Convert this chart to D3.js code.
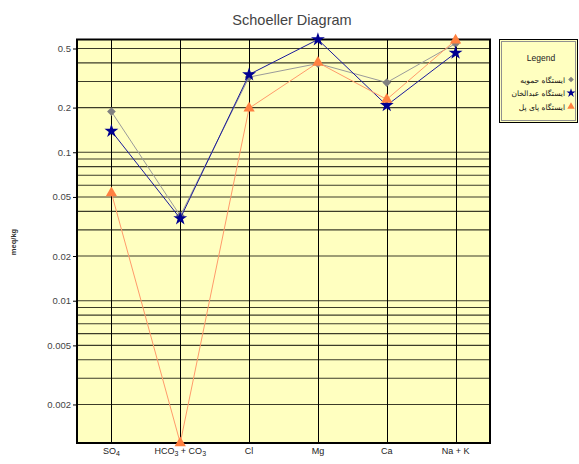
<!DOCTYPE html>
<html>
<head>
<meta charset="utf-8">
<script src="https://cdn.jsdelivr.net/npm/d3@7/dist/d3.min.js"></script>
<style>
  body { margin: 0; background: #fff; }
  svg { display: block; font-family: "Liberation Sans", Arial, sans-serif; }
</style>
</head>
<body>
<div id="chart"></div>
<script>
// categories and series values (meq/kg)
const categories = ["SO4", "HCO3 + CO3", "Cl", "Mg", "Ca", "Na + K"];
const hamoyeh   = [0.188, 0.0373, 0.321, 0.396, 0.295, 0.54];
const abdolkhan = [0.139, 0.0358, 0.334, 0.575, 0.207, 0.467];
const payePol   = [0.0532, 0.0011, 0.198, 0.402, 0.227, 0.569];
const seriesNames = ["ایستگاه حمویه", "ایستگاه عبدالخان", "ایستگاه پای پل"];
const yTickValues = [0.5, 0.2, 0.1, 0.05, 0.02, 0.01, 0.005, 0.002];

const width = 579, height = 464;
const plot = { left: 77, top: 39.5, right: 490, bottom: 443 };
const plotBg = "#ffffc0";

const series = [
  { name: seriesNames[0], values: hamoyeh,   line: "#9a9a9a", fill: "#808080", symbol: "diamond" },
  { name: seriesNames[1], values: abdolkhan, line: "#1a1a9c", fill: "#000090", symbol: "star" },
  { name: seriesNames[2], values: payePol,   line: "#ff9a6a", fill: "#ff8040", symbol: "triangle" }
];

const svg = d3.select("#chart").append("svg")
  .attr("width", width)
  .attr("height", height);

const allValues = series.flatMap(s => s.values);
const x = d3.scalePoint()
  .domain(categories)
  .range([plot.left, plot.right])
  .padding(0.5);
const y = d3.scaleLog()
  .domain(d3.extent(allValues))
  .range([plot.bottom, plot.top]);

// plot background
svg.append("rect")
  .attr("x", plot.left).attr("y", plot.top)
  .attr("width", plot.right - plot.left)
  .attr("height", plot.bottom - plot.top)
  .attr("fill", plotBg);

// horizontal grid: every 1..9 x 10^n inside the domain
const [yMin, yMax] = y.domain();
const gridValues = [];
for (let e = Math.floor(Math.log10(yMin)); e <= Math.ceil(Math.log10(yMax)); e++) {
  for (let m = 1; m < 10; m++) {
    const v = m * Math.pow(10, e);
    if (v >= yMin && v <= yMax) gridValues.push(v);
  }
}
svg.append("g").selectAll("line")
  .data(gridValues)
  .join("line")
  .attr("x1", plot.left).attr("x2", plot.right)
  .attr("y1", d => y(d)).attr("y2", d => y(d))
  .attr("stroke", "#3c3c28")
  .attr("stroke-width", 1.1);

// vertical grid at each category
svg.append("g").selectAll("line")
  .data(categories)
  .join("line")
  .attr("x1", d => Math.round(x(d)) + 0.5).attr("x2", d => Math.round(x(d)) + 0.5)
  .attr("y1", plot.top).attr("y2", plot.bottom)
  .attr("stroke", "#000")
  .attr("stroke-width", 1);

// y axis
const yAxis = svg.append("g")
  .attr("transform", `translate(${plot.left},0)`)
  .call(d3.axisLeft(y).tickValues(yTickValues).tickFormat(d3.format("")).tickSize(4).tickPadding(2));
yAxis.select(".domain").remove();
yAxis.selectAll("text")
  .attr("font-size", 9.5)
  .attr("fill", "#444")
  .attr("font-family", "\"Liberation Sans\", Arial, sans-serif");
yAxis.selectAll("line").attr("stroke", "#000");

// x axis labels with subscripts
const xLabels = svg.append("g").selectAll("text")
  .data(categories)
  .join("text")
  .attr("x", d => x(d))
  .attr("y", 456)
  .attr("text-anchor", "middle")
  .attr("font-size", 9)
  .attr("fill", "#222");
xLabels.each(function(d) {
  const t = d3.select(this);
  d.split(/(\d)/).filter(p => p !== "").forEach(p => {
    if (/^\d$/.test(p)) {
      t.append("tspan").text(p).attr("font-size", 7).attr("dy", 2);
    } else {
      t.append("tspan").text(p).attr("dy", t.selectAll("tspan").size() ? -2 : 0);
    }
  });
});

// plot border
svg.append("rect")
  .attr("x", plot.left).attr("y", plot.top)
  .attr("width", plot.right - plot.left)
  .attr("height", plot.bottom - plot.top)
  .attr("fill", "none")
  .attr("stroke", "#000")
  .attr("stroke-width", 2);

// series lines and markers
const symbolFor = {
  diamond: d3.symbol().type(d3.symbolSquare).size(38),
  star: d3.symbol().type(d3.symbolStar).size(60),
  triangle: d3.symbol().type(d3.symbolTriangle).size(55)
};
const legendSymbolFor = {
  diamond: d3.symbol().type(d3.symbolSquare).size(16),
  star: d3.symbol().type(d3.symbolStar).size(26),
  triangle: d3.symbol().type(d3.symbolTriangle).size(24)
};
const lineGen = d3.line()
  .x((d, i) => x(categories[i]))
  .y(d => y(d));

series.forEach(s => {
  const g = svg.append("g");
  g.append("path")
    .datum(s.values)
    .attr("d", lineGen)
    .attr("fill", "none")
    .attr("stroke", s.line)
    .attr("stroke-width", 1);
  g.selectAll("path.marker")
    .data(s.values)
    .join("path")
    .attr("class", "marker")
    .attr("d", symbolFor[s.symbol])
    .attr("transform", (d, i) => `translate(${x(categories[i])},${y(d)})` + (s.symbol === "diamond" ? " rotate(45)" : ""))
    .attr("fill", s.fill);
});

// title
svg.append("text")
  .attr("x", 292).attr("y", 25)
  .attr("text-anchor", "middle")
  .attr("font-size", 14.5)
  .attr("fill", "#444")
  .text("Schoeller Diagram");

// y axis title
svg.append("text")
  .attr("transform", "translate(16,242) rotate(-90)")
  .attr("text-anchor", "middle")
  .attr("font-size", 7.5)
  .attr("font-weight", "bold")
  .attr("fill", "#333")
  .text("meq/kg");

// legend
const legend = svg.append("g");
legend.append("rect")
  .attr("x", 499.5).attr("y", 39.5).attr("width", 78).attr("height", 83)
  .attr("fill", plotBg).attr("stroke", "#000");
legend.append("rect")
  .attr("x", 501.5).attr("y", 41.5).attr("width", 74).attr("height", 79)
  .attr("fill", "none").attr("stroke", "#909090");
legend.append("text")
  .attr("x", 541).attr("y", 61)
  .attr("text-anchor", "middle")
  .attr("font-size", 8.5)
  .attr("fill", "#222")
  .text("Legend");
const entries = legend.selectAll("g.entry")
  .data(series)
  .join("g")
  .attr("class", "entry")
  .attr("transform", (d, i) => `translate(0,${79.5 + i * 13.5})`);
entries.append("text")
  .attr("x", 565).attr("y", 3)
  .attr("text-anchor", "end")
  .attr("font-size", 7.5)
  .attr("font-family", "\"DejaVu Sans\", sans-serif")
  .attr("fill", "#111")
  .text(d => d.name);
entries.append("path")
  .attr("d", d => legendSymbolFor[d.symbol]())
  .attr("transform", d => "translate(571,0)" + (d.symbol === "diamond" ? " rotate(45)" : ""))
  .attr("fill", d => d.fill);
</script>
</body>
</html>
